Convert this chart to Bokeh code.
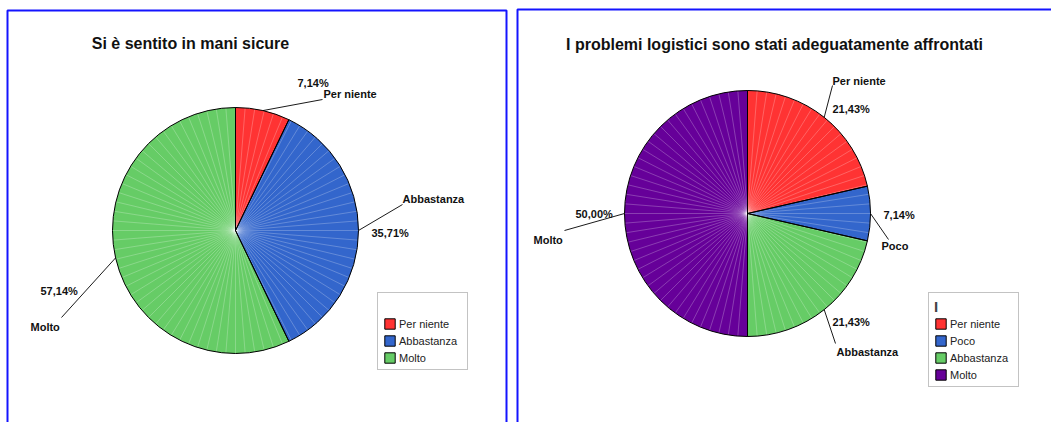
import numpy as np
from bokeh.plotting import figure
from bokeh.models import ColumnDataSource, Range1d, Legend, LegendItem
from bokeh.core.properties import value
from bokeh.embed import file_html
from bokeh.resources import INLINE

# ---------------- data ----------------
title_1 = "Si è sentito in mani sicure"
categories_1 = ["Per niente", "Abbastanza", "Molto"]
values_1 = [7.14, 35.71, 57.14]
colors_1 = ["#ff3333", "#3366cc", "#66cc66"]
legend_title_1 = " "

title_2 = "I problemi logistici sono stati adeguatamente affrontati"
categories_2 = ["Per niente", "Poco", "Abbastanza", "Molto"]
values_2 = [21.43, 7.14, 21.43, 50.00]
colors_2 = ["#ff3333", "#3366cc", "#66cc66", "#660099"]
legend_title_2 = "I"

# ---------------- layout (screen pixels, y downward) ----------------
W, H = 1051, 422
FONT = "Liberation Sans"

def Y(sy):
    return H - sy

pie_1_layout = dict(cx=235, cy=230, r=123, title_x=190, title_y=43,
                    legend_xy=(377, 52),
                    # (name_x, name_y, pct_x, pct_y, leader_end_x, leader_end_y)
                    labels=[(323, 93, 297, 82, 322, 99),
                            (402, 198, 371, 232, 402, 204),
                            (30, 326, 40, 290, 61, 317)])
pie_2_layout = dict(cx=747, cy=213, r=123, title_x=774, title_y=44,
                    legend_xy=(928, 35),
                    labels=[(832, 80, 832, 108, 832, 85),
                            (881, 245, 883, 214, 888, 239),
                            (836, 351, 832, 321, 835, 343),
                            (533, 239, 575, 213, 564, 230)])

p = figure(width=W, height=H, x_range=Range1d(0, W), y_range=Range1d(0, H),
           x_axis_type=None, y_axis_type=None, output_backend="svg",
           toolbar_location=None, min_border=0)
p.grid.visible = False
p.outline_line_color = None
p.background_fill_color = "white"
p.border_fill_color = "white"

# panel frames
p.multi_line(xs=[[7, 7, 506, 506], [517, 517, 1060]],
             ys=[[Y(440), Y(10), Y(10), Y(440)], [Y(440), Y(9), Y(9)]],
             line_color="#1414ff", line_width=2)


def pct_text(v):
    return f"{v:.2f}".replace(".", ",") + "%"


def draw_pie(title, cats, vals, cols, lay, legend_title):
    cx, cy, r = lay["cx"], Y(lay["cy"]), lay["r"]
    vals = np.asarray(vals, dtype=float)
    fr = vals / vals.sum()
    cum_end = np.cumsum(fr)
    cum_start = cum_end - fr
    start = np.pi / 2 - 2 * np.pi * cum_start
    end = np.pi / 2 - 2 * np.pi * cum_end
    n = len(cats)
    src = ColumnDataSource(dict(x=[cx] * n, y=[cy] * n, start=start, end=end,
                                color=cols, label=cats))
    fill_r = p.wedge(x="x", y="y", radius=r, start_angle="start", end_angle="end",
                     direction="clock", fill_color="color", line_color=None, source=src)
    # light radial texture
    ang = np.deg2rad(np.arange(0, 360, 4.5))
    p.multi_line(xs=[[cx, cx + r * np.cos(a)] for a in ang],
                 ys=[[cy, cy + r * np.sin(a)] for a in ang],
                 line_color="white", line_alpha=0.3, line_width=0.8)
    outline_r = p.wedge(x="x", y="y", radius=r, start_angle="start", end_angle="end",
                        direction="clock", fill_color=None, line_color="black",
                        line_width=1, source=src)

    # labels + leader lines
    mid = np.pi / 2 - 2 * np.pi * (cum_start + fr / 2)
    lx, ly, nx, ny, px_, py_, ptxt = [], [], [], [], [], [], []
    for i, (a, lab) in enumerate(zip(mid, lay["labels"])):
        name_x, name_y, pct_x, pct_y, ex, ey = lab
        lx.append([cx + r * np.cos(a), ex])
        ly.append([cy + r * np.sin(a), Y(ey)])
        nx.append(name_x); ny.append(Y(name_y))
        px_.append(pct_x); py_.append(Y(pct_y)); ptxt.append(pct_text(vals[i]))
    p.multi_line(xs=lx, ys=ly, line_color="black", line_width=0.9)
    p.text(x=nx, y=ny, text=list(cats), text_font=value(FONT), text_font_style="bold",
           text_font_size="11px", text_align="left", text_baseline="middle",
           text_color="#111111")
    p.text(x=px_, y=py_, text=ptxt, text_font=value(FONT), text_font_style="bold",
           text_font_size="11px", text_align="left", text_baseline="middle",
           text_color="#111111")
    # title
    p.text(x=[lay["title_x"]], y=[Y(lay["title_y"])], text=[title], text_font=value(FONT),
           text_font_style="bold", text_font_size="16px", text_align="center",
           text_baseline="middle", text_color="#111111")

    items = [LegendItem(label=c, renderers=[fill_r, outline_r], index=i)
             for i, c in enumerate(cats)]
    leg = Legend(items=items, location=lay["legend_xy"], title=legend_title,
                 title_text_font=FONT, title_text_font_style="bold",
                 title_text_font_size="15px", title_standoff=2,
                 label_text_font=FONT, label_text_font_size="11px",
                 label_text_color="#222222",
                 glyph_width=13, glyph_height=13, label_height=13, label_standoff=3,
                 label_width=63,
                 spacing=4, padding=5, margin=0,
                 border_line_color="#888888", border_line_width=1,
                 background_fill_color="white", background_fill_alpha=1)
    p.add_layout(leg)


draw_pie(title_1, categories_1, values_1, colors_1, pie_1_layout, legend_title_1)
draw_pie(title_2, categories_2, values_2, colors_2, pie_2_layout, legend_title_2)

open("out.html", "w").write(file_html(p, INLINE))
